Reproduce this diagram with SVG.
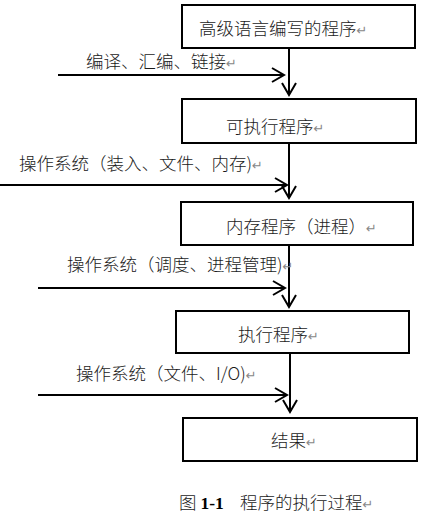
<svg xmlns="http://www.w3.org/2000/svg" width="448" height="529" viewBox="0 0 448 529">
<style>
.box{fill:#fff;stroke:#000;stroke-width:2}
.lbl{font-family:"Noto Sans CJK SC","Liberation Serif",serif;font-size:17.5px;font-weight:300;fill:#1a1a1a}
.ret{font-family:"DejaVu Sans",sans-serif;font-size:13px;font-weight:normal;fill:#888}
.num{font-family:"Liberation Serif",serif;font-weight:bold;fill:#000}
.con{stroke:#000;stroke-width:2;fill:none}
</style>
<defs>
<marker id="ah" markerUnits="userSpaceOnUse" markerWidth="20" markerHeight="20" refX="13" refY="8" orient="auto">
<path d="M1,1 L13,8 L1,15" fill="none" stroke="#000" stroke-width="2"/>
</marker>
</defs>
<rect width="448" height="529" fill="#fff"/>
<g id="connectors">
<line class="con" x1="289" y1="48" x2="289" y2="95" marker-end="url(#ah)"/>
<line class="con" x1="58" y1="75" x2="284" y2="75" marker-end="url(#ah)"/>
<line class="con" x1="289" y1="143" x2="289" y2="198" marker-end="url(#ah)"/>
<line class="con" x1="0" y1="185" x2="287" y2="185" marker-end="url(#ah)"/>
<line class="con" x1="289" y1="245" x2="289" y2="307" marker-end="url(#ah)"/>
<line class="con" x1="38" y1="288" x2="285" y2="288" marker-end="url(#ah)"/>
<line class="con" x1="290" y1="353" x2="290" y2="412" marker-end="url(#ah)"/>
<line class="con" x1="38" y1="395" x2="287" y2="395" marker-end="url(#ah)"/>
</g>
<g id="node1">
<rect class="box" x="182" y="5" width="233" height="43"/>
<text class="lbl" x="199" y="35">高级语言编写的程序<tspan class="ret">↵</tspan></text>
</g>
<g id="node2">
<rect class="box" x="182" y="99" width="234" height="44"/>
<text class="lbl" x="226" y="133">可执行程序<tspan class="ret">↵</tspan></text>
</g>
<g id="node3">
<rect class="box" x="181" y="202" width="232" height="43"/>
<text class="lbl" x="226" y="233">内存程序（进程）<tspan class="ret">↵</tspan></text>
</g>
<g id="node4">
<rect class="box" x="176" y="311" width="233" height="42"/>
<text class="lbl" x="238" y="341">执行程序<tspan class="ret">↵</tspan></text>
</g>
<g id="node5">
<rect class="box" x="183" y="418" width="234" height="43"/>
<text class="lbl" x="271" y="447">结果<tspan class="ret">↵</tspan></text>
</g>
<g id="labels">
<text class="lbl" x="86" y="68">编译、汇编、链接<tspan class="ret">↵</tspan></text>
<text class="lbl" x="19" y="170">操作系统（装入、文件、内存)<tspan class="ret">↵</tspan></text>
<text class="lbl" x="67" y="271">操作系统（调度、进程管理)<tspan class="ret">↵</tspan></text>
<text class="lbl" x="76" y="380">操作系统（文件、I/O)<tspan class="ret">↵</tspan></text>
</g>
<g id="caption">
<text class="lbl" x="179" y="509">图 <tspan class="num">1-1</tspan><tspan x="240">程序的执行过程</tspan><tspan class="ret">↵</tspan></text>
</g>
</svg>
